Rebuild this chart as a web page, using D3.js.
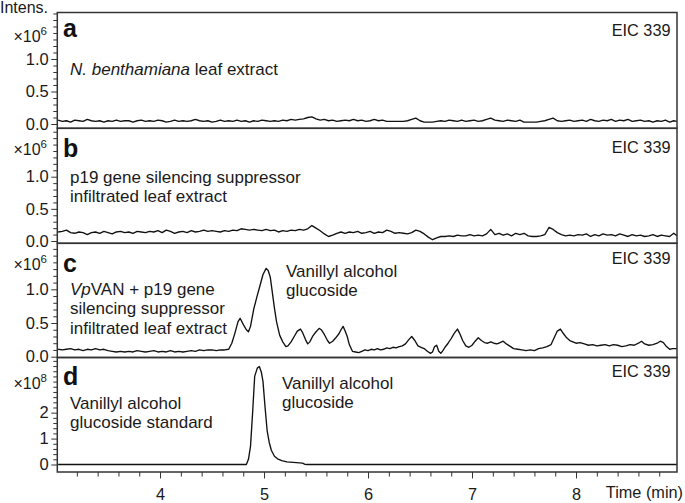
<!DOCTYPE html>
<html>
<head>
<meta charset="UTF-8">
<title>EIC 339 chromatograms</title>
<style>
    body { margin: 0; background: #fff; }
    svg { display: block; font-family: "Liberation Sans", Arial, Helvetica, sans-serif; }
    .trace { fill: none; stroke: #111; stroke-width: 1.35px; stroke-linejoin: round; }
    .frame { fill: none; stroke: #333; stroke-width: 1.5px; }
    .tick line { stroke: #333; }
</style>
</head>
<body>
<script src="https://d3js.org/d3.v7.min.js"></script>
<script>
// x axis
var timeTicks = [4, 5, 6, 7, 8];
var timeTitle = "Time (min)";
var yTitle = "Intens.";
var eicLabel = "EIC 339";

// traces: [time (min), intensity]
var traceA = [[3.02,.06],[3.06,.04],[3.10,.05],[3.14,.03],[3.18,.06],[3.22,.05],[3.26,.04],[3.30,.07],[3.34,.05],[3.38,.04],
    [3.42,.05],[3.46,.03],[3.50,.05],[3.54,.04],[3.58,.06],[3.62,.04],[3.66,.05],[3.70,.05],[3.74,.03],[3.78,.05],
    [3.82,.06],[3.86,.04],[3.90,.05],[3.94,.04],[3.98,.06],[4.02,.05],[4.06,.03],[4.10,.04],[4.14,.06],[4.18,.04],
    [4.22,.05],[4.26,.04],[4.30,.05],[4.34,.07],[4.38,.05],[4.42,.04],[4.46,.05],[4.50,.03],[4.54,.04],[4.58,.06],
    [4.62,.04],[4.66,.05],[4.70,.04],[4.74,.06],[4.78,.04],[4.82,.05],[4.86,.03],[4.90,.05],[4.94,.04],[4.98,.06],
    [5.02,.05],[5.06,.04],[5.10,.05],[5.14,.04],[5.18,.06],[5.22,.05],[5.26,.07],[5.30,.06],[5.34,.07],[5.38,.08],
    [5.42,.10],[5.46,.11],[5.50,.08],[5.54,.06],[5.58,.07],[5.62,.05],[5.66,.06],[5.70,.04],[5.74,.05],[5.78,.06],
    [5.82,.05],[5.86,.07],[5.90,.05],[5.94,.06],[5.98,.04],[6.02,.05],[6.06,.07],[6.10,.05],[6.14,.06],[6.18,.04],
    [6.22,.04],[6.26,.04],[6.30,.04],[6.34,.04],[6.38,.05],[6.42,.07],[6.46,.09],[6.50,.05],[6.54,.03],[6.58,.03],
    [6.62,.03],[6.66,.04],[6.70,.05],[6.74,.04],[6.78,.06],[6.82,.05],[6.86,.04],[6.90,.06],[6.94,.04],[6.98,.05],
    [7.02,.06],[7.06,.04],[7.10,.05],[7.14,.07],[7.18,.09],[7.22,.06],[7.26,.05],[7.30,.04],[7.34,.06],[7.38,.05],
    [7.42,.04],[7.46,.06],[7.50,.03],[7.54,.03],[7.58,.03],[7.62,.03],[7.66,.04],[7.70,.05],[7.74,.07],[7.78,.09],
    [7.82,.05],[7.86,.04],[7.90,.05],[7.94,.06],[7.98,.04],[8.02,.05],[8.06,.06],[8.10,.04],[8.14,.07],[8.18,.05],
    [8.22,.04],[8.26,.06],[8.30,.05],[8.34,.07],[8.38,.04],[8.42,.06],[8.46,.05],[8.50,.07],[8.54,.04],[8.58,.05],
    [8.62,.06],[8.66,.04],[8.70,.05],[8.74,.03],[8.78,.05],[8.82,.04],[8.86,.06],[8.90,.03],[8.94,.05],[8.97,.04]];

var traceB = [[3.02,.14],[3.06,.15],[3.10,.17],[3.14,.13],[3.18,.12],[3.22,.14],[3.26,.13],[3.30,.10],[3.34,.13],[3.38,.14],
    [3.42,.12],[3.46,.15],[3.50,.13],[3.54,.11],[3.58,.14],[3.62,.15],[3.66,.13],[3.70,.14],[3.74,.12],[3.78,.15],
    [3.82,.14],[3.86,.13],[3.90,.15],[3.94,.14],[3.98,.16],[4.02,.13],[4.06,.17],[4.10,.15],[4.14,.12],[4.18,.14],
    [4.22,.15],[4.26,.13],[4.30,.16],[4.34,.14],[4.38,.15],[4.42,.17],[4.46,.15],[4.50,.16],[4.54,.15],[4.58,.14],
    [4.62,.16],[4.66,.15],[4.70,.17],[4.74,.16],[4.78,.19],[4.82,.18],[4.86,.17],[4.90,.18],[4.94,.17],[4.98,.16],
    [5.02,.18],[5.06,.16],[5.10,.17],[5.14,.14],[5.18,.16],[5.22,.15],[5.26,.17],[5.30,.16],[5.34,.18],[5.38,.17],
    [5.42,.19],[5.46,.24],[5.50,.20],[5.54,.16],[5.58,.11],[5.62,.07],[5.66,.09],[5.70,.12],[5.74,.14],[5.78,.12],
    [5.82,.14],[5.86,.13],[5.90,.15],[5.94,.12],[5.98,.13],[6.02,.15],[6.06,.12],[6.10,.14],[6.14,.13],[6.18,.17],
    [6.22,.15],[6.26,.12],[6.30,.13],[6.34,.12],[6.38,.11],[6.42,.13],[6.46,.17],[6.50,.15],[6.54,.11],[6.58,.06],
    [6.62,.02],[6.66,.05],[6.70,.07],[6.74,.07],[6.78,.08],[6.82,.07],[6.86,.09],[6.90,.08],[6.94,.08],[6.98,.10],
    [7.02,.08],[7.06,.09],[7.10,.08],[7.14,.11],[7.18,.18],[7.22,.10],[7.26,.12],[7.30,.09],[7.34,.11],[7.38,.08],
    [7.42,.12],[7.46,.10],[7.50,.12],[7.54,.08],[7.58,.07],[7.62,.07],[7.66,.08],[7.70,.10],[7.74,.21],[7.78,.18],
    [7.82,.13],[7.86,.10],[7.90,.08],[7.94,.09],[7.98,.08],[8.02,.10],[8.06,.09],[8.10,.11],[8.14,.07],[8.18,.10],
    [8.22,.08],[8.26,.11],[8.30,.09],[8.34,.10],[8.38,.08],[8.42,.11],[8.46,.09],[8.50,.07],[8.54,.10],[8.58,.08],
    [8.62,.09],[8.66,.07],[8.70,.08],[8.74,.10],[8.78,.07],[8.82,.09],[8.86,.08],[8.90,.07],[8.94,.12],[8.97,.08]];

var traceC = [[3.02,.11],[3.06,.10],[3.10,.11],[3.14,.12],[3.18,.10],[3.22,.11],[3.26,.09],[3.30,.11],[3.34,.10],[3.38,.12],
    [3.42,.10],[3.46,.11],[3.50,.09],[3.54,.08],[3.58,.07],[3.62,.08],[3.66,.07],[3.70,.08],[3.74,.07],[3.78,.09],
    [3.82,.08],[3.86,.07],[3.90,.08],[3.94,.09],[3.98,.07],[4.02,.08],[4.06,.07],[4.10,.09],[4.14,.07],[4.18,.08],
    [4.22,.07],[4.26,.08],[4.30,.09],[4.34,.08],[4.38,.10],[4.42,.09],[4.46,.10],[4.50,.10],[4.54,.09],[4.58,.10],
    [4.62,.10],[4.66,.11],[4.69,.20],[4.72,.35],[4.75,.52],[4.77,.57],[4.80,.48],[4.83,.40],[4.85,.37],[4.87,.45],
    [4.90,.70],[4.93,.88],[4.96,1.05],[4.99,1.22],[5.02,1.31],[5.04,1.28],[5.06,1.18],[5.08,.95],[5.10,.72],[5.12,.52],
    [5.15,.32],[5.18,.22],[5.21,.15],[5.23,.16],[5.26,.22],[5.29,.30],[5.32,.38],[5.35,.41],[5.37,.36],[5.40,.25],
    [5.42,.19],[5.44,.22],[5.47,.31],[5.50,.37],[5.53,.42],[5.55,.40],[5.58,.33],[5.61,.24],[5.63,.20],[5.66,.23],
    [5.69,.28],[5.72,.34],[5.74,.40],[5.76,.45],[5.78,.38],[5.80,.30],[5.82,.18],[5.85,.08],[5.88,.07],[5.91,.06],
    [5.94,.08],[5.97,.10],[6.00,.09],[6.03,.11],[6.06,.10],[6.09,.12],[6.12,.10],[6.15,.11],[6.18,.13],[6.21,.12],
    [6.24,.14],[6.27,.13],[6.30,.15],[6.33,.16],[6.36,.19],[6.39,.25],[6.42,.30],[6.45,.24],[6.48,.16],[6.51,.14],
    [6.54,.12],[6.57,.08],[6.60,.05],[6.62,.07],[6.64,.15],[6.66,.17],[6.68,.08],[6.70,.05],[6.72,.09],[6.74,.14],
    [6.77,.20],[6.80,.27],[6.83,.35],[6.86,.41],[6.88,.35],[6.91,.24],[6.94,.16],[6.97,.14],[7.00,.17],[7.03,.23],
    [7.06,.28],[7.09,.24],[7.12,.21],[7.15,.20],[7.18,.22],[7.21,.20],[7.24,.19],[7.27,.21],[7.30,.23],[7.33,.19],
    [7.36,.16],[7.40,.12],[7.44,.11],[7.48,.10],[7.52,.09],[7.56,.10],[7.60,.09],[7.64,.12],[7.68,.13],[7.72,.15],
    [7.76,.18],[7.79,.28],[7.82,.38],[7.85,.41],[7.88,.34],[7.91,.28],[7.94,.24],[7.97,.22],[8.00,.20],[8.04,.21],
    [8.08,.19],[8.12,.17],[8.16,.18],[8.20,.16],[8.24,.17],[8.28,.18],[8.32,.16],[8.36,.18],[8.40,.17],[8.44,.15],
    [8.48,.16],[8.52,.18],[8.56,.17],[8.60,.20],[8.63,.23],[8.66,.19],[8.70,.17],[8.74,.18],[8.78,.20],[8.81,.23],
    [8.84,.21],[8.87,.15],[8.90,.11],[8.93,.12],[8.97,.12]];

var traceD = [[3.02,0],[4.83,0],[4.85,.2],[4.87,.7],[4.89,2.0],[4.91,3.4],[4.935,3.72],[4.955,3.78],[4.975,3.55],
    [4.99,3.2],[5.01,2.2],[5.03,1.3],[5.05,.85],[5.07,.55],[5.10,.32],[5.13,.22],[5.17,.15],[5.22,.10],[5.28,.08],
    [5.34,.06],[5.37,.05],[5.39,.01],[5.42,0],[8.97,0]];

// panel texts
var labelA = [[{text: "N. benthamiana", italic: true}, {text: " leaf extract"}]];
var labelB = [[{text: "p19 gene silencing suppressor"}], [{text: "infiltrated leaf extract"}]];
var labelC = [[{text: "Vp", italic: true}, {text: "VAN + p19 gene"}], [{text: "silencing suppressor"}], [{text: "infiltrated leaf extract"}]];
var labelD = [[{text: "Vanillyl alcohol"}], [{text: "glucoside standard"}]];
var peakLabel = [[{text: "Vanillyl alcohol"}], [{text: "glucoside"}]];

// layout
var W = 685, H = 503;
var x0 = 57.3, x1 = 677;
var axisY = 472;

var panels = [
    {letter: "a", trace: traceA, top: 12.5, bottom: 128.3, yDomain: [-0.066, 1.715], yTicks: [0, 0.5, 1.0], minorStep: 0.1, fmt: ".1f", power: "6",
     letterY: 37, powerY: 41.5, eicY: 35.5,
     notes: [{lines: labelA, x: 70, y: 75, dy: 19}]},
    {letter: "b", trace: traceB, top: 128.3, bottom: 243.3, yDomain: [-0.036, 1.753], yTicks: [0, 0.5, 1.0], minorStep: 0.1, fmt: ".1f", power: "6",
     letterY: 156.5, powerY: 155, eicY: 152.5,
     notes: [{lines: labelB, x: 70, y: 183, dy: 19}]},
    {letter: "c", trace: traceC, top: 243.3, bottom: 357.5, yDomain: [-0.012, 1.683], yTicks: [0, 0.5, 1.0], minorStep: 0.1, fmt: ".1f", power: "6",
     letterY: 271.5, powerY: 270, eicY: 263.5,
     notes: [{lines: labelC, x: 70, y: 294.5, dy: 19.7}, {lines: peakLabel, x: 286, y: 276.5, dy: 19}]},
    {letter: "d", trace: traceD, top: 357.5, bottom: 472, yDomain: [-0.29, 4.13], yTicks: [0, 1, 2], minorStep: 0.2, fmt: "d", power: "8",
     letterY: 385, powerY: 388.5, eicY: 377,
     notes: [{lines: labelD, x: 70, y: 408.5, dy: 19.2}, {lines: peakLabel, x: 282, y: 388.5, dy: 19}]}
];

var svg = d3.select("body").append("svg")
    .attr("width", W)
    .attr("height", H);

var x = d3.scaleLinear().domain([3.012, 8.971]).range([x0, x1]);

var line = d3.line()
    .x(function(d) { return x(d[0]); });

function styleAxis(g, size) {
    g.attr("font-family", null).attr("font-size", size);
    g.select(".domain").remove();
    g.selectAll("text").attr("fill", "#1a1a1a");
}

panels.forEach(function(p, i) {
    var y = d3.scaleLinear().domain(p.yDomain).range([p.bottom, p.top]);

    svg.append("clipPath").attr("id", "clip" + i)
        .append("rect")
        .attr("x", x0).attr("y", p.top)
        .attr("width", x1 - x0).attr("height", p.bottom - p.top);

    // minor y ticks
    var minors = d3.range(0, p.yDomain[1], p.minorStep).filter(function(v) {
        return p.yTicks.every(function(t) { return Math.abs(t - v) > 1e-6; });
    });
    svg.append("g")
        .attr("transform", "translate(" + x0 + ",0)")
        .call(d3.axisLeft(y).tickValues(minors).tickSize(4).tickFormat(""))
        .call(styleAxis, 16);

    svg.append("g")
        .attr("transform", "translate(" + x0 + ",0)")
        .call(d3.axisLeft(y).tickValues(p.yTicks).tickSize(6).tickPadding(2.5).tickFormat(d3.format(p.fmt)))
        .call(styleAxis, 16.5);

    // exponent label
    var pw = svg.append("text")
        .attr("x", 47).attr("y", p.powerY)
        .attr("text-anchor", "end")
        .attr("font-size", 16)
        .attr("fill", "#1a1a1a");
    pw.append("tspan").text("\u00d710");
    pw.append("tspan").attr("dy", -7).attr("font-size", 11.5).text(p.power);

    svg.append("path")
        .attr("class", "trace")
        .attr("clip-path", "url(#clip" + i + ")")
        .attr("d", line.y(function(d) { return y(d[1]); })(p.trace));

    svg.append("rect")
        .attr("class", "frame")
        .attr("x", x0).attr("y", p.top)
        .attr("width", x1 - x0).attr("height", p.bottom - p.top);

    svg.append("text")
        .attr("x", 63).attr("y", p.letterY)
        .attr("font-size", 25).attr("font-weight", "bold")
        .attr("fill", "#111")
        .text(p.letter);

    svg.append("text")
        .attr("x", 670.5).attr("y", p.eicY)
        .attr("text-anchor", "end")
        .attr("font-size", 16.3)
        .attr("fill", "#1a1a1a")
        .text(eicLabel);

    p.notes.forEach(function(n) {
        n.lines.forEach(function(segs, k) {
            var t = svg.append("text")
                .attr("x", n.x).attr("y", n.y + k * n.dy)
                .attr("font-size", 17)
                .attr("fill", "#1a1a1a");
            segs.forEach(function(s) {
                t.append("tspan")
                    .attr("font-style", s.italic ? "italic" : null)
                    .text(s.text);
            });
        });
    });
});

// x axis
var xMinor = d3.range(3.2, 8.9, 0.2).filter(function(v) {
    return timeTicks.every(function(t) { return Math.abs(t - v) > 1e-6; });
});
svg.append("g")
    .attr("transform", "translate(0," + axisY + ")")
    .call(d3.axisBottom(x).tickValues(xMinor).tickSize(4.5).tickFormat(""))
    .call(styleAxis, 16);

svg.append("g")
    .attr("transform", "translate(0," + axisY + ")")
    .call(d3.axisBottom(x).tickValues(timeTicks).tickSize(6.5).tickPadding(9.5).tickFormat(d3.format("d")))
    .call(styleAxis, 16.3);

svg.append("text")
    .attr("x", 683).attr("y", 497.5)
    .attr("text-anchor", "end")
    .attr("font-size", 16.3)
    .attr("fill", "#1a1a1a")
    .text(timeTitle);

svg.append("text")
    .attr("x", 0).attr("y", 13)
    .attr("font-size", 16)
    .attr("fill", "#1a1a1a")
    .text(yTitle);
</script>
</body>
</html>
